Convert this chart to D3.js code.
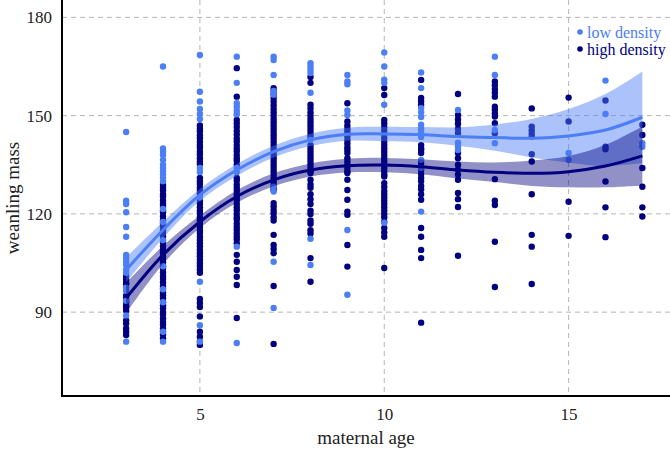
<!DOCTYPE html>
<html><head><meta charset="utf-8">
<script src="https://cdn.jsdelivr.net/npm/d3@7"></script>
<style>body{margin:0;background:#fff}svg{display:block}text{font-family:"Liberation Serif","Times New Roman",serif}</style>
</head><body><svg id="c" width="670" height="449"></svg>
<script>
const ages = [3,4,5,6,7,8,9,10,11,12,13,14,15,16,17];
const seriesNames = ["low density","high density"];
const seriesColors = ["#4c7ef5","#000080"];
const xTicks = [5,10,15];
const yTicks = [90,120,150,180];

const lowMass = [
 [145,124,123,120.5,116,113,107.5,106.5,105.5,104.5,103,102,97.5,96.5,93.5,89,81],
 [165,140,139,138,136.5,135,134,133,132,131,130,121.5,117.5,112,104,97,93,84,81],
 [168.5,157.3,154.3,152,150.5,149,134,132.8,125,99.3,86,81],
 [168,160,153.8,152.7,151.5,150.4,134,132.8,110,80.6],
 [168,167,162.4,157.5,156.4,128.3,126.8,105.4,91.3],
 [166,165,164,163,157,142.6,112.4,104.4],
 [162.4,160.4,159.6,151.6,150.2,115.1,95.3],
 [169.3,165,161,160,153.3,117.3],
 [163.2,158.4,152.3,151,149.6,147.2,146,144.8,143.5,136.5,134,120.7],
 [151.7,141.7,140.5,139.5],
 [168,162.4,145.6,141.6],
 [],
 [138.6,136.5],
 [160.7,150.5],
 [141.6,140.5]
];
const highMass = [
 [101,100,99,98.5,95,94,93,92,91.5,90.5,87.5,86.5,85,84,83],
 [128.8,128,127.2,126,125.3,124.1,123,122.2,121,120.4,119.2,118,117.1,116.3,115,114.2,113.1,112,111.3,110.1,109,108.2,107,106.1,105.2,104,103.3,102.1,101,100.2,99.1,98,97.2,96,95.1,94.3,93,92.1,91.2,90,89.3,88.1,87,86.2,85,84.1,83.2,82],
 [147,146,145.2,144,143.1,142,141,140.2,139,138.1,137,136,135.2,131,130,129.1,128,127,126.2,124,123.1,122,121,120.2,119,118,117.1,116,115,114.2,113,112,111,110.1,109,108,107.1,106,105,104.1,103,102,94,92.8,91.6,88.7,84,82.5,81,80],
 [164.5,155.8,148.7,147.6,146.5,145.3,144.2,143,142.1,141,140,139.1,138,137,136.2,135,131,130.2,129,128,127.1,126,125,124.2,123,122,121.1,120,119,118.2,117,116,115.1,114,113,112.2,111,107.5,105.4,102.9,100.8,98.3,88.2],
 [158.4,157.5,156.5,155.4,154.3,153.2,152,151,150,149,148,147,146,145,144,143,142,141,140,139,138,137,136,135,134,133,132,131,130,129,128,127.3,123.3,122.3,121.2,120.2,119,118,113.6,110.5,109.3,108,98,80.3],
 [161.8,160,153.3,152.2,151,150,149,148,147,146,145,144,143,141,140,139,138,137,136,135,134,133,132.5,130.4,129,128,126,124.5,123,121,120,118,117,115,114,106.5,99.3],
 [153.8,148.2,147,146,145.1,143.6,142.5,141.4,140.3,139.5,138.6,137,136,135,134,133,132.5,130.4,127.3,124.3,120.7,119.7,110.5,103.9],
 [158.4,156.3,148.7,147.6,146.5,145.4,144.3,143.2,142,141,140,139,138,137,136,135,134,133,132,131.4,129.4,128.2,127,126,125,124,123,122,121,120,119,117.6,115.7,114.3,113,103.5],
 [160.9,155.4,154.4,153.3,141,140,139.5,138.6,135.6,134.5,133.5,132.2,131,130,128.5,127.5,126,124.3,115.7,113,109,106.5,86.8],
 [156.6,150.2,148.8,147.5,146,144.7,138.6,137,135,133.5,132,130.4,126.4,124.5,122.1,107.2],
 [160.4,159.3,158.1,157,155.8,152.7,151.8,150.7,149.7,147.7,144.6,130.6,124,122.7,111.5,97.7],
 [152.2,146.6,145.5,144.5,143.6,138.2,136,126,113.6,110,98.6],
 [155.5,148.2,123.7,113.3],
 [154.6,140.5,139.7,129.9,122,112.9],
 [147.2,144.1,134,128.3,122,119.2]
];
const lowFit  = [102.9,115.1,125.8,133.4,139,142.6,144.3,144.4,144.2,143.6,143.3,143.1,143.8,145.6,149.5];
const lowSE   = [3.8,2.5,1.8,1.8,1.8,1.9,2.0,2.2,2.3,2.8,4.0,5.9,8.2,11,14];
const highFit = [94.3,107.5,117.6,125.3,130.4,133.4,134.7,134.9,134.4,133.4,132.7,132.4,132.9,134.6,137.7];
const highSE  = [4.6,2.8,1.9,1.9,2.0,2.0,2.1,2.2,2.3,2.6,3.0,3.9,4.8,6.5,9];

const svg = d3.select("#c");
const L = 62, R = 670, T = 0, B = 396;
const x = d3.scaleLinear().domain([1.26, 17.75]).range([L, R]);
const y = d3.scaleLinear().domain([64.4, 185.3]).range([B, T]);

// grid
const g = svg.append("g");
g.selectAll("line.gy").data(yTicks).join("line")
  .attr("x1", L).attr("x2", R).attr("y1", d => y(d)).attr("y2", d => y(d))
  .attr("stroke", "#b5b5b5").attr("stroke-width", 1).attr("stroke-dasharray", "5,4");
g.selectAll("line.gx").data(xTicks).join("line")
  .attr("y1", T).attr("y2", B).attr("x1", d => x(d)).attr("x2", d => x(d))
  .attr("stroke", "#b5b5b5").attr("stroke-width", 1).attr("stroke-dasharray", "5,4");

// points
function pts(arr){ const out=[]; arr.forEach((vals,i)=>vals.forEach(v=>out.push([ages[i],v]))); return out; }
const series = [
  {name: seriesNames[0], color: seriesColors[0], pts: pts(lowMass), fit: lowFit, se: lowSE, alpha: 0.47},
  {name: seriesNames[1], color: seriesColors[1], pts: pts(highMass), fit: highFit, se: highSE, alpha: 0.43}
];
[series[1], series[0]].forEach(s => {
  svg.append("g").selectAll("circle").data(s.pts).join("circle")
    .attr("cx", d => x(d[0])).attr("cy", d => y(d[1])).attr("r", 3.2).attr("fill", s.color);
});

// ribbons and lines
const curve = d3.curveCatmullRom.alpha(0.5);
series.forEach(s => {
  const area = d3.area().curve(curve)
    .x((d,i) => x(ages[i])).y0((d,i) => y(s.fit[i] - s.se[i])).y1((d,i) => y(s.fit[i] + s.se[i]));
  svg.append("path").datum(s.fit).attr("d", area).attr("fill", s.color).attr("fill-opacity", s.alpha);
});
series.forEach(s => {
  const line = d3.line().curve(curve).x((d,i) => x(ages[i])).y(d => y(d));
  svg.append("path").datum(s.fit).attr("d", line).attr("fill", "none")
    .attr("stroke", s.color).attr("stroke-width", 3);
});

// axes
const xAxis = d3.axisBottom(x).tickValues(xTicks).tickSize(0).tickPadding(10);
const yAxis = d3.axisLeft(y).tickValues(yTicks).tickSize(0).tickPadding(10);
const gx = svg.append("g").attr("transform", `translate(0,${B})`).call(xAxis);
const gy = svg.append("g").attr("transform", `translate(${L},0)`).call(yAxis);
[gx, gy].forEach(a => {
  a.select(".domain").remove();
  a.selectAll("text").attr("font-family", '"Liberation Serif", serif').attr("font-size", 17).attr("fill", "#222");
});
gx.selectAll("text").attr("dy", "0.85em");
svg.append("line").attr("x1", L).attr("x2", L).attr("y1", 0).attr("y2", B+1).attr("stroke", "#000").attr("stroke-width", 2);
svg.append("line").attr("x1", L-1).attr("x2", R).attr("y1", B).attr("y2", B).attr("stroke", "#000").attr("stroke-width", 2);

svg.append("text").attr("x", (L+R)/2).attr("y", 444).attr("text-anchor", "middle")
  .attr("font-size", 19).attr("fill", "#222").text("maternal age");
svg.append("text").attr("transform", `translate(19,${(T+B)/2}) rotate(-90)`).attr("text-anchor", "middle")
  .attr("font-size", 19).attr("fill", "#222").text("weanling mass");

// legend
const lg = svg.append("g");
series.forEach((s,i) => {
  lg.append("circle").attr("cx", 580).attr("cy", 32 + i*17).attr("r", 2.8).attr("fill", s.color);
  lg.append("text").attr("x", 587).attr("y", 37.5 + i*17).attr("font-size", 16).attr("fill", s.color).text(s.name);
});
</script></body></html>
